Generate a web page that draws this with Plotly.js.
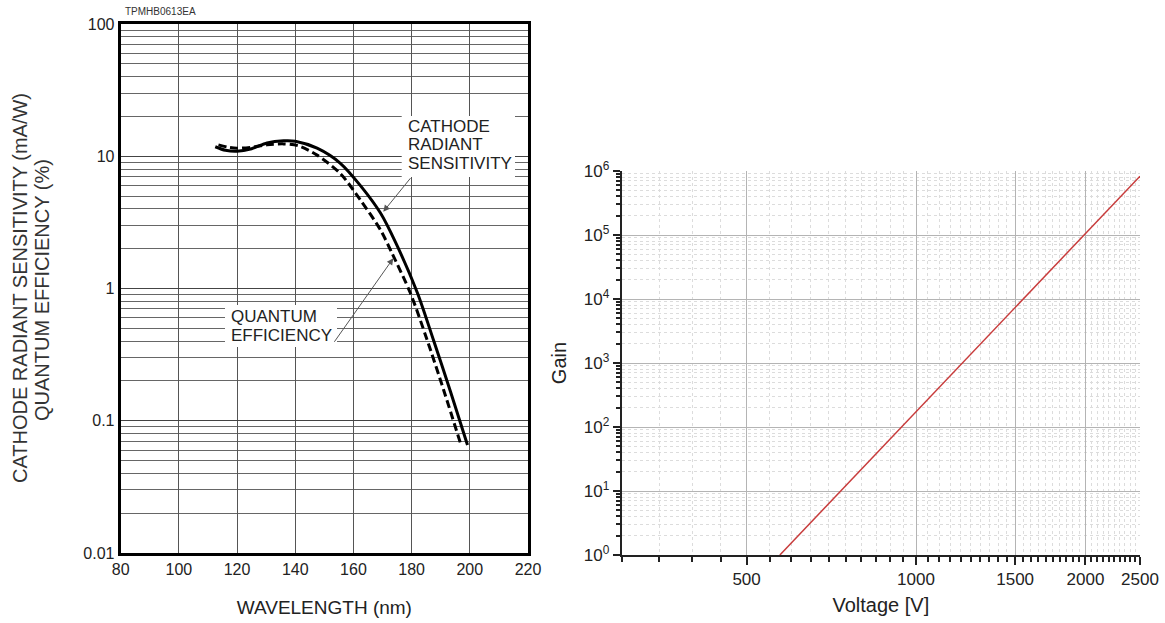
<!DOCTYPE html>
<html><head><meta charset="utf-8">
<script src="https://cdn.plot.ly/plotly-3.0.1.min.js"></script>
<style>html,body{margin:0;padding:0;background:#fff;}#chart{width:1165px;height:623px;}</style>
</head><body><div id="chart"></div>
<script>
// ---- Left chart data: photocathode spectral response ----
const wavelengthSolid = [112.5, 116, 119.9, 125, 130.3, 136, 140, 147.5, 155.5, 162.4, 169.3, 174.4, 182.0, 187.5, 193.4, 199.2];
const radiantSensitivity = [11.8, 11.1, 10.9, 11.4, 12.6, 13.1, 13.0, 11.5, 8.85, 6.0, 3.72, 2.25, 0.925, 0.408, 0.165, 0.0656];
const wavelengthDashed = [113.6, 117, 120, 125, 130.3, 136, 141, 147.5, 155.5, 162.4, 169.3, 173.4, 179.6, 185.3, 191, 196.8];
const quantumEfficiency = [12.2, 11.7, 11.5, 11.7, 12.2, 12.4, 12.0, 10.2, 7.4, 4.67, 2.77, 1.82, 0.92, 0.41, 0.171, 0.0675];
const wlTickVals = [80, 100, 120, 140, 160, 180, 200, 220];
const wlTickText = ['80', '100', '120', '140', '160', '180', '200', '220'];
const sensTickVals = [0.01, 0.1, 1, 10, 100];
const sensTickText = ['0.01', '0.1', '1', '10', '100'];

// ---- Right chart data: gain vs voltage ----
const voltage = [573, 1000, 1500, 2000, 2500];
const gain = [1, 173, 7400, 105000, 830000];
const voltTickVals = [500, 1000, 1500, 2000, 2500];
const voltTickText = ['500', '1000', '1500', '2000', '2500'];
const gainTickVals = [1, 10, 100, 1000, 10000, 100000, 1000000];
const gainTickText = ['10<sup>0</sup>', '10<sup>1</sup>', '10<sup>2</sup>', '10<sup>3</sup>', '10<sup>4</sup>', '10<sup>5</sup>', '10<sup>6</sup>'];

// minor tick positions (axis configuration)
function logMinors(fromExp, toExp) {
  const out = [];
  for (let e = fromExp; e < toExp; e++) for (let m = 2; m <= 9; m++) out.push(m * Math.pow(10, e));
  return out;
}
const voltMinor = [];
for (let v = 300; v <= 2500; v += 50) if (voltTickVals.indexOf(v) < 0) voltMinor.push(v);

const W = 1165, H = 623;
const px = x => x / W;
const py = y => 1 - y / H;
const FONT = 'Liberation Sans, Arial, sans-serif';

const traces = [
  { x: wavelengthSolid, y: radiantSensitivity, xaxis: 'x', yaxis: 'y', mode: 'lines', type: 'scatter',
    line: { color: '#000', width: 3, shape: 'spline', smoothing: 0.8 }, name: 'Cathode radiant sensitivity' },
  { x: wavelengthDashed, y: quantumEfficiency, xaxis: 'x', yaxis: 'y', mode: 'lines', type: 'scatter',
    line: { color: '#000', width: 3, dash: '8px,4px', shape: 'spline', smoothing: 0.8 }, name: 'Quantum efficiency' },
  { x: voltage, y: gain, xaxis: 'x2', yaxis: 'y2', mode: 'lines', type: 'scatter',
    line: { color: '#c83c3c', width: 1.5 }, name: 'Gain' }
];

const layout = {
  width: W, height: H,
  margin: { l: 0, r: 0, t: 0, b: 0 },
  paper_bgcolor: '#fff', plot_bgcolor: '#fff',
  showlegend: false,
  font: { family: FONT, color: '#222' },
  xaxis: {
    domain: [px(120.7), px(528)], anchor: 'y',
    range: [80, 220], tickmode: 'array', tickvals: wlTickVals, ticktext: wlTickText,
    ticks: '', showgrid: true, gridcolor: '#555', gridwidth: 1, zeroline: false,
    showline: true, linecolor: '#000', linewidth: 3, mirror: true,
    tickfont: { size: 16, color: '#222' },
    title: { text: 'WAVELENGTH (nm)', font: { size: 19, color: '#222' }, standoff: 24 }
  },
  yaxis: {
    domain: [1 - 553 / H, 1 - 24 / H], anchor: 'x',
    type: 'log', range: [-2, 2], tickmode: 'array', tickvals: sensTickVals, ticktext: sensTickText,
    ticks: '', showgrid: true, gridcolor: '#444', gridwidth: 1, zeroline: false,
    showline: true, linecolor: '#000', linewidth: 3, mirror: true,
    tickfont: { size: 16, color: '#222' },
    minor: { tickmode: 'array', tickvals: logMinors(-2, 2), showgrid: true, gridcolor: '#666', gridwidth: 1, ticks: '' }
  },
  xaxis2: {
    domain: [px(621.7), px(1140)], anchor: 'y2',
    type: 'log', range: [Math.log10(300), Math.log10(2500)],
    tickmode: 'array', tickvals: voltTickVals, ticktext: voltTickText,
    ticks: 'outside', ticklen: 8, tickwidth: 2, tickcolor: '#222',
    showline: true, linecolor: '#222', linewidth: 2, mirror: false,
    showgrid: true, gridcolor: '#b4b4b4', gridwidth: 1, zeroline: false,
    tickfont: { size: 17, color: '#222' },
    minor: { tickmode: 'array', tickvals: voltMinor, ticks: 'outside', ticklen: 5, tickwidth: 2, tickcolor: '#222',
             showgrid: true, gridcolor: '#dcdcdc', gridwidth: 1, griddash: 'dot' },
    title: { text: 'Voltage [V]', font: { size: 20, color: '#222' }, standoff: 10 }
  },
  yaxis2: {
    domain: [1 - 555 / H, 1 - 171 / H], anchor: 'x2',
    type: 'log', range: [0, 6], tickmode: 'array', tickvals: gainTickVals, ticktext: gainTickText,
    ticks: 'outside', ticklen: 7, tickwidth: 2, tickcolor: '#222',
    showline: true, linecolor: '#222', linewidth: 2, mirror: false,
    showgrid: true, gridcolor: '#b4b4b4', gridwidth: 1, zeroline: false,
    tickfont: { size: 17, color: '#222' },
    minor: { tickmode: 'array', tickvals: logMinors(0, 6), ticks: 'outside', ticklen: 4, tickwidth: 2, tickcolor: '#222',
             showgrid: true, gridcolor: '#dcdcdc', gridwidth: 1, griddash: 'dot' },
    title: { text: 'Gain', font: { size: 20, color: '#222' }, standoff: 12 }
  },
  shapes: [
    { type: 'rect', xref: 'paper', yref: 'paper', x0: px(401.7), x1: px(515), y0: py(177), y1: py(116),
      fillcolor: '#fff', line: { width: 0 }, layer: 'above' },
    { type: 'rect', xref: 'paper', yref: 'paper', x0: px(225), x1: px(337), y0: py(347), y1: py(305),
      fillcolor: '#fff', line: { width: 0 }, layer: 'above' }
  ],
  annotations: [
    { text: 'TPMHB0613EA', xref: 'paper', yref: 'paper', x: px(123), y: py(12), xanchor: 'left', yanchor: 'middle',
      showarrow: false, font: { size: 10, color: '#333' } },
    { text: 'CATHODE RADIANT SENSITIVITY (mA/W)', xref: 'paper', yref: 'paper', x: px(20), y: py(288), textangle: -90,
      xanchor: 'center', yanchor: 'middle', showarrow: false, font: { size: 20, color: '#333' } },
    { text: 'QUANTUM EFFICIENCY (%)', xref: 'paper', yref: 'paper', x: px(42), y: py(290), textangle: -90,
      xanchor: 'center', yanchor: 'middle', showarrow: false, font: { size: 20, color: '#333' } },
    { text: 'CATHODE', xref: 'paper', yref: 'paper', x: px(406), y: py(126), xanchor: 'left', yanchor: 'middle', showarrow: false, font: { size: 17, color: '#222' } },
    { text: 'RADIANT', xref: 'paper', yref: 'paper', x: px(406), y: py(144.5), xanchor: 'left', yanchor: 'middle', showarrow: false, font: { size: 17, color: '#222' } },
    { text: 'SENSITIVITY', xref: 'paper', yref: 'paper', x: px(406), y: py(163.5), xanchor: 'left', yanchor: 'middle', showarrow: false, font: { size: 17, color: '#222' } },
    { text: 'QUANTUM', xref: 'paper', yref: 'paper', x: px(229), y: py(316), xanchor: 'left', yanchor: 'middle', showarrow: false, font: { size: 17, color: '#222' } },
    { text: 'EFFICIENCY', xref: 'paper', yref: 'paper', x: px(229), y: py(335), xanchor: 'left', yanchor: 'middle', showarrow: false, font: { size: 17, color: '#222' } },
    { text: '', xref: 'paper', yref: 'paper', x: px(383.3), y: py(211.7), axref: 'pixel', ayref: 'pixel', ax: 28.4, ay: -35,
      showarrow: true, arrowhead: 2, arrowsize: 1.3, arrowwidth: 1, arrowcolor: '#555', standoff: 0 },
    { text: '', xref: 'paper', yref: 'paper', x: px(393.3), y: py(258.3), axref: 'pixel', ayref: 'pixel', ax: -60, ay: 85,
      showarrow: true, arrowhead: 2, arrowsize: 1.3, arrowwidth: 1, arrowcolor: '#555', standoff: 0 }
  ]
};

Plotly.newPlot('chart', traces, layout, { displayModeBar: false, staticPlot: true });
</script>
</body></html>
